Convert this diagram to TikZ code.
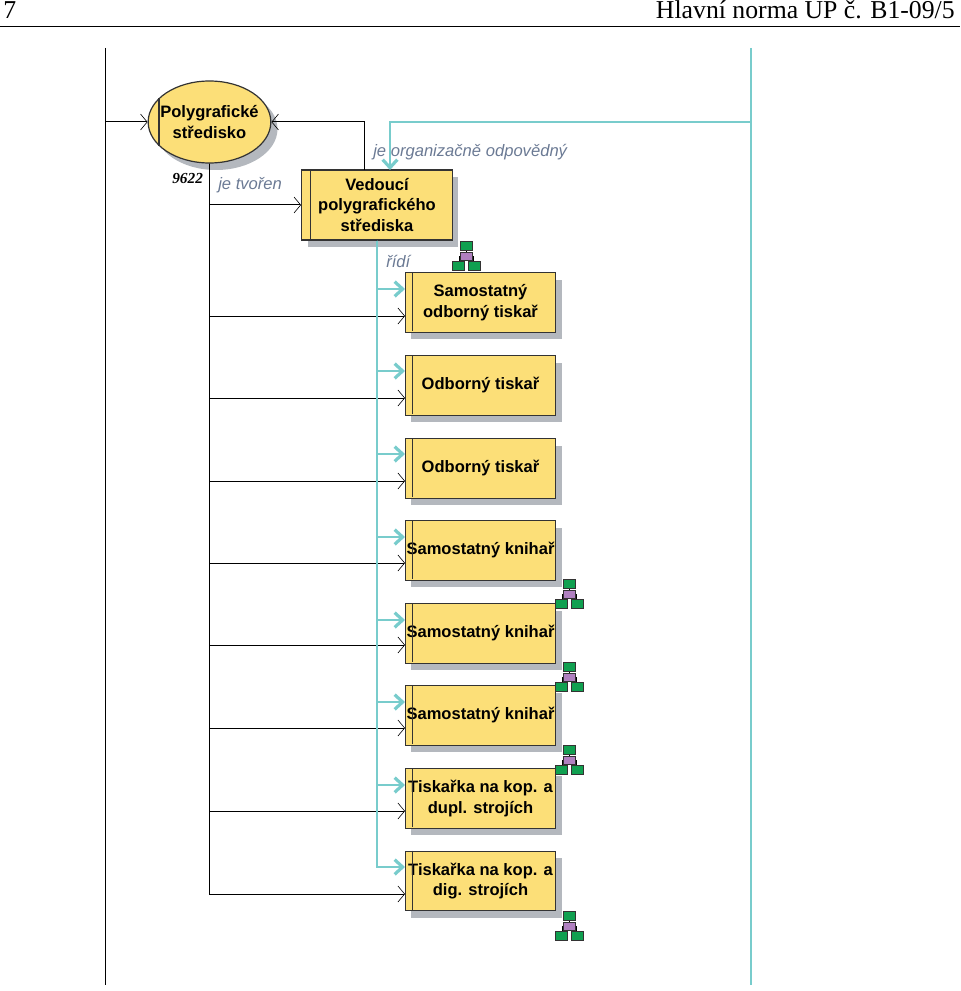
\documentclass[tikz,border=0pt]{standalone}
\usepackage{fontspec}
\setmainfont{Liberation Sans}
\newfontfamily\headfont{Liberation Serif}
\usetikzlibrary{arrows.meta,shapes.geometric,shadows}
\definecolor{zluta}{HTML}{FCDF78}
\definecolor{stin}{HTML}{B4B8BE}
\definecolor{tyrkys}{HTML}{78CCCC}
\definecolor{popis}{HTML}{6B7A94}
\definecolor{zelena}{HTML}{10A050}
\definecolor{fialova}{HTML}{B080C0}
\tikzset{
  pozice/.style={draw=black!80,fill=zluta,line width=.9pt,inner sep=0pt,align=center,
    minimum width=113pt,minimum height=44.5pt,font=\fontsize{12.4}{15.6}\selectfont\bfseries,
    drop shadow={shadow xshift=4.5pt,shadow yshift=-5.25pt,opacity=1,fill=stin}},
  utvar/.style={ellipse,draw=black!80,fill=zluta,line width=.9pt,inner sep=0pt,align=center,
    minimum width=92pt,minimum height=61.5pt,font=\fontsize{12.4}{15.6}\selectfont\bfseries,
    drop shadow={shadow xshift=5pt,shadow yshift=-5.25pt,opacity=1,fill=stin}},
  vazba/.style={draw=black,line width=.75pt,-{Straight Barb[length=5pt,width=12pt,line width=.45pt]}},
  rizeni/.style={draw=tyrkys,line width=1.8pt,-{Straight Barb[length=6pt,width=11pt,line width=2.4pt]}},
  osa/.style={line width=.75pt},
  pruh/.style={line width=.8pt,draw=black!80},
  popisek/.style={inner sep=0pt,text=popis,font=\fontsize{12.45}{14}\selectfont\itshape},
  hlava/.style={inner sep=0pt,anchor=base,font=\headfont\fontsize{19.3}{21}\selectfont},
  dilek/.style={draw=black!80,fill=zelena,line width=.5pt},
}
\newcommand{\orgikona}[2]{%
  \draw[line width=.5pt] (#1,#2+8) -- (#1,#2+13) (#1-7,#2+20) -- (#1-7,#2+15) -- (#1+7,#2+15) -- (#1+7,#2+20);
  \draw[dilek] (#1-6,#2) rectangle (#1+6,#2+9);
  \draw[dilek,fill=fialova] (#1-6,#2+11) rectangle (#1+6,#2+19);
  \draw[dilek] (#1-14,#2+20) rectangle (#1-2,#2+29);
  \draw[dilek] (#1+2,#2+20) rectangle (#1+14,#2+29);
}
\begin{document}
\begin{tikzpicture}[x=.75pt,y=-.75pt]
  \useasboundingbox (0,0) rectangle (960,991);
  % hlavicka
  \coordinate (h1) at (0,26);
  \coordinate (h2) at (960,26);
  \draw[line width=.6pt] (h1) -- (h2);
  \node[hlava,anchor=base west] (cislo) at (3,19) {7};
  \node[hlava,anchor=base east] (norma) at (955,19) {Hlavní norma UP č. B1-09/5};
  % svisle osy
  \coordinate (l1) at (105,48);
  \coordinate (l2) at (105,985);
  \coordinate (r1) at (751,48);
  \coordinate (r2) at (751,985);
  \coordinate (l3) at (105,122);
  \coordinate (r3) at (751,122);
  \draw[osa] (l1) -- (l2);
  \draw[osa,draw=tyrkys,line width=1.8pt] (r1) -- (r2);
  % utvar a vedouci
  \node[utvar] (stredisko) at (209.5,122) {\makebox[0pt]{Polygrafické}\\\makebox[0pt]{středisko}};
  \node[pozice,minimum height=52.5pt] (vedouci) at (377,205) {Vedoucí\\polygrafického\\střediska};
  \draw[pruh] (stredisko.center) ++(-50.5,-24) -- ++(0,48);
  \draw[pruh] (vedouci.north west) ++(9,0) -- ++(0,70);
  % pozice
  \node[pozice] (b1) at (480.5,302.5) {Samostatný\\odborný tiskař};
  \node[pozice] (b2) at (480.5,385.5) {Odborný tiskař};
  \node[pozice] (b3) at (480.5,468.5) {Odborný tiskař};
  \node[pozice] (b4) at (480.5,550.5) {Samostatný knihař};
  \node[pozice] (b5) at (480.5,633.5) {Samostatný knihař};
  \node[pozice] (b6) at (480.5,715.5) {Samostatný knihař};
  \node[pozice] (b7) at (480.5,798.5) {Tiskařka na kop. a\\dupl. strojích};
  \node[pozice] (b8) at (480.5,881) {Tiskařka na kop. a\\dig. strojích};
  \draw[pruh] (b1.north west) ++(8,0) -- ++(0,59);
  \draw[pruh] (b2.north west) ++(8,0) -- ++(0,59);
  \draw[pruh] (b3.north west) ++(8,0) -- ++(0,59);
  \draw[pruh] (b4.north west) ++(8,0) -- ++(0,59);
  \draw[pruh] (b5.north west) ++(8,0) -- ++(0,59);
  \draw[pruh] (b6.north west) ++(8,0) -- ++(0,59);
  \draw[pruh] (b7.north west) ++(8,0) -- ++(0,59);
  \draw[pruh] (b8.north west) ++(8,0) -- ++(0,59);
  % vazby cerne
  \coordinate (a1) at (405,316);
  \coordinate (a2) at (405,398);
  \coordinate (a3) at (405,481);
  \coordinate (a4) at (405,563);
  \coordinate (a5) at (405,645);
  \coordinate (a6) at (405,728);
  \coordinate (a7) at (405,811);
  \coordinate (a8) at (405,894);
  \coordinate (v1) at (364,170);
  \draw[vazba] (l3) -- (stredisko.west);
  \draw[vazba] (v1) |- (stredisko.east);
  \draw[vazba] (stredisko.south) |- (vedouci.west);
  \draw[vazba] (stredisko.south) |- (a1);
  \draw[vazba] (stredisko.south) |- (a2);
  \draw[vazba] (stredisko.south) |- (a3);
  \draw[vazba] (stredisko.south) |- (a4);
  \draw[vazba] (stredisko.south) |- (a5);
  \draw[vazba] (stredisko.south) |- (a6);
  \draw[vazba] (stredisko.south) |- (a7);
  \draw[vazba] (stredisko.south) |- (a8);
  % vazby tyrkysove
  \coordinate (c1) at (405,289);
  \coordinate (c2) at (405,371);
  \coordinate (c3) at (405,454);
  \coordinate (c4) at (405,537);
  \coordinate (c5) at (405,620);
  \coordinate (c6) at (405,702);
  \coordinate (c7) at (405,785);
  \coordinate (c8) at (405,867);
  \coordinate (v2) at (390,170);
  \draw[rizeni] (r3) -| (v2);
  \draw[rizeni] (vedouci.south) |- (c1);
  \draw[rizeni] (vedouci.south) |- (c2);
  \draw[rizeni] (vedouci.south) |- (c3);
  \draw[rizeni] (vedouci.south) |- (c4);
  \draw[rizeni] (vedouci.south) |- (c5);
  \draw[rizeni] (vedouci.south) |- (c6);
  \draw[rizeni] (vedouci.south) |- (c7);
  \draw[rizeni] (vedouci.south) |- (c8);
  % popisky
  \node[popisek,anchor=west] (tvoren) at (218,185) {je tvořen};
  \node[popisek,anchor=west] (odpovedny) at (373,152) {je organizačně odpovědný};
  \node[popisek,anchor=west] (ridi) at (386,261) {řídí};
  \node[inner sep=0pt,anchor=west,font=\headfont\fontsize{11.5}{13}\selectfont\bfseries\itshape] (kod) at (172,178) {9622};
  % ikony
  \orgikona{466}{241}
  \orgikona{569}{579}
  \orgikona{569}{662}
  \orgikona{569}{745}
  \orgikona{569}{911}
\end{tikzpicture}
\end{document}
